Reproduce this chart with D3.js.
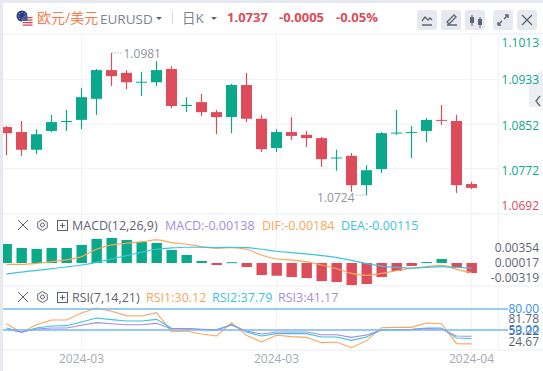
<!DOCTYPE html>
<html>
<head>
<meta charset="utf-8">
<style>
  html, body { margin: 0; padding: 0; background: #fff; overflow: hidden; }
  text { font-family: "Open Sans", "Noto Sans CJK SC", sans-serif; }
</style>
<script src="https://cdn.jsdelivr.net/npm/d3@7"></script>
</head>
<body>
<svg id="chart" width="543" height="371"></svg>
<script>
// candles, red = close below open
const opens = [1.0847,1.0838,1.0806,1.0840,1.0856,1.0860,1.0898,1.0950,1.0945,1.0928,1.0928,1.0952,1.0885,1.0892,1.0874,1.0865,1.0923,1.0862,1.0809,1.0838,1.0833,1.0827,1.0791,1.0795,1.0742,1.0771,1.0836,1.0837,1.0840,1.0860,1.0858,1.0744];
const closes = [1.0836,1.0806,1.0834,1.0856,1.0858,1.0901,1.0950,1.0939,1.0928,1.0929,1.0950,1.0885,1.0887,1.0874,1.0865,1.0923,1.0862,1.0807,1.0838,1.0831,1.0827,1.0789,1.0792,1.0742,1.0769,1.0836,1.0837,1.0838,1.0860,1.0859,1.0742,1.0737];
const highs = [1.0849,1.0858,1.0843,1.0869,1.0878,1.0918,1.0952,1.0981,1.0950,1.0947,1.0966,1.0957,1.0901,1.0907,1.0878,1.0925,1.0945,1.0869,1.0843,1.0865,1.0840,1.0829,1.0806,1.0800,1.0778,1.0838,1.0878,1.0849,1.0863,1.0887,1.0869,1.0748];
const lows = [1.0796,1.0795,1.0798,1.0838,1.0840,1.0843,1.0869,1.0921,1.0916,1.0903,1.0921,1.0881,1.0874,1.0867,1.0834,1.0836,1.0856,1.0802,1.0802,1.0824,1.0811,1.0775,1.0768,1.0730,1.0724,1.0764,1.0833,1.0791,1.0820,1.0851,1.0728,1.0735];

const macdBars = [.00427,.00337,.00315,.00337,.00337,.00405,.00540,.00562,.00517,.00472,.00450,.00292,.00180,.00045,-.00045,.00018,-.00090,-.00270,-.00285,-.00315,-.00337,-.00405,-.00427,-.00495,-.00472,-.00315,-.00180,-.00067,.00022,.00090,-.00090,-.00225];
const difLine = [-.00030,-.00030,-.00008,.00030,.00068,.00143,.00308,.00405,.00443,.00473,.00518,.00458,.00420,.00368,.00330,.00345,.00308,.00180,.00090,.00068,.00030,-.00045,-.00128,-.00233,-.00278,-.00233,-.00173,-.00120,-.00083,-.00053,-.00143,-.00215];
const deaLine = [-.00248,-.00203,-.00165,-.00128,-.00090,-.00045,.00015,.00090,.00165,.00240,.00308,.00338,.00353,.00353,.00345,.00353,.00345,.00308,.00263,.00233,.00203,.00165,.00120,.00060,-.00015,-.00068,-.00098,-.00113,-.00098,-.00083,-.00098,-.00115];

const rsi1 = [59.0,46.2,57.6,64.3,64.3,74.3,81.4,76.7,70.5,70.0,74.8,47.6,48.6,44.3,41.4,60.5,42.4,32.9,42.4,40.5,39.5,31.9,32.9,24.7,34.8,53.3,53.8,53.8,60.0,59.0,30.5,30.12];
const rsi2 = [52.9,47.1,52.9,55.7,56.2,61.4,67.1,64.8,62.9,62.9,65.2,52.4,51.9,50.5,49.5,58.1,47.1,41.4,44.8,45.2,44.8,40.0,40.0,35.2,40.0,50.5,50.5,51.0,52.9,52.9,38.6,37.79];
const rsi3 = [51.0,46.7,51.4,52.9,52.9,56.7,60.5,59.0,57.6,57.6,59.5,51.9,51.9,51.0,50.5,56.7,48.6,44.3,47.1,47.1,47.1,43.3,43.3,39.5,42.9,50.0,50.0,50.5,51.9,51.4,41.4,41.17];

const priceTicks = [1.1013, 1.0933, 1.0852, 1.0772, 1.0692];
const macdTicks = [0.00354, 0.00017, -0.00319];
const rsiTicks = [81.78, 53.22, 24.67];
const rsiLevels = [80, 50];
const dateLabels = [[5, "2024-03"], [18, "2024-03"], [31, "2024-04"]];

const green = "#0aa98b", red = "#dc4c5a", gray = "#8f94a1", dark = "#5f6472";
const orange = "#f9a65a", cyan = "#3cc4de", purple = "#a78be0", gridC = "#f2f3f7";

const svg = d3.select("#chart");
const x = d3.scaleBand().domain(d3.range(opens.length)).range([-1, 479]);
const xc = i => x(i) + x.bandwidth() / 2;
const y = d3.scaleLinear().domain([1.0933, 1.0692]).range([79.5, 212.8]);
const yM = d3.scaleLinear().domain([0, 0.00354]).range([263, 247.2]);
const yR = d3.scaleLinear().domain([50, 80]).range([330, 309]);
const yRLabel = d3.scaleLinear().domain([24.67, 81.78]).range([341.5, 319]);

// 外框和分隔线
svg.append("rect").attr("width", 543).attr("height", 3).attr("fill", "#e6e9f0");
svg.append("rect").attr("width", 3).attr("height", 371).attr("fill", "#e6e9f0");
const hLines = [34, 214, 286, 350];
svg.selectAll(".sep").data(hLines).enter().append("line")
    .attr("x1", 3).attr("x2", 543).attr("y1", d => d).attr("y2", d => d)
    .attr("stroke", gridC).attr("stroke-width", 1.5);
svg.selectAll(".gridy").data(priceTicks.slice(1, 4)).enter().append("line")
    .attr("x1", 3).attr("x2", 498).attr("y1", d => y(d)).attr("y2", d => y(d))
    .attr("stroke", gridC).attr("stroke-width", 1.2);
svg.selectAll(".gridx").data(dateLabels).enter().append("line")
    .attr("x1", d => xc(d[0])).attr("x2", d => xc(d[0])).attr("y1", 35).attr("y2", 350)
    .attr("stroke", gridC).attr("stroke-width", 1.2);
svg.append("line").attr("x1", 498.5).attr("x2", 498.5).attr("y1", 34).attr("y2", 350)
    .attr("stroke", gridC);

// 折叠按钮，放在坐标轴文字下面
svg.append("path").attr("d", "M529,80L543,70V107H529z").attr("fill", "#eeeff3");
svg.append("path").attr("d", "M540,96l-4,5 4,5").attr("fill", "none").attr("stroke", dark).attr("stroke-width", 1.3);

svg.append("defs").append("clipPath").attr("id", "plot")
    .append("rect").attr("x", 3).attr("y", 34).attr("width", 495).attr("height", 316);
const plot = svg.append("g").attr("clip-path", "url(#plot)");

// K线
const idx = d3.range(opens.length);
const colorOf = i => closes[i] < opens[i] ? red : green;
plot.selectAll(".wick").data(idx).enter().append("line")
    .attr("x1", xc).attr("x2", xc)
    .attr("y1", i => y(highs[i])).attr("y2", i => y(lows[i]))
    .attr("stroke", colorOf).attr("stroke-width", 1.2);
plot.selectAll(".body").data(idx).enter().append("rect")
    .attr("x", i => xc(i) - 5.5).attr("width", 11)
    .attr("y", i => y(Math.max(opens[i], closes[i])))
    .attr("height", i => Math.max(1, Math.abs(y(opens[i]) - y(closes[i]))))
    .attr("fill", colorOf);

// 最高最低标注
const hiIdx = highs.indexOf(d3.max(highs)), loIdx = lows.indexOf(d3.min(lows));
svg.append("path")
    .attr("d", `M${xc(hiIdx)},${y(highs[hiIdx])}h11`)
    .attr("stroke", gray).attr("stroke-dasharray", "1 2").attr("fill", "none");
svg.append("text").attr("x", xc(hiIdx) + 12).attr("y", y(highs[hiIdx]) + 5)
    .attr("font-size", 12).attr("fill", gray).text(highs[hiIdx].toFixed(4));
svg.append("path")
    .attr("d", `M${xc(loIdx)},${y(lows[loIdx])}h-11`)
    .attr("stroke", gray).attr("stroke-dasharray", "1 2").attr("fill", "none");
svg.append("text").attr("x", xc(loIdx) - 12).attr("y", y(lows[loIdx]) + 7)
    .attr("text-anchor", "end")
    .attr("font-size", 12).attr("fill", gray).text(lows[loIdx].toFixed(4));

// MACD
plot.selectAll(".mbar").data(macdBars).enter().append("rect")
    .attr("x", (d, i) => xc(i) - 5).attr("width", 10.4)
    .attr("y", d => d > 0 ? yM(d) : yM(0))
    .attr("height", d => Math.max(1, Math.abs(yM(d) - yM(0))))
    .attr("fill", d => d > 0 ? green : red);
const lineM = d3.line().x((d, i) => xc(i)).y(d => yM(d)).curve(d3.curveMonotoneX);
plot.append("path").datum(difLine).attr("d", lineM).attr("fill", "none").attr("stroke", orange).attr("stroke-width", 1.2);
plot.append("path").datum(deaLine).attr("d", lineM).attr("fill", "none").attr("stroke", cyan).attr("stroke-width", 1.2);

// RSI
const lineR = d3.line().x((d, i) => xc(i)).y(d => yR(d));
[[rsi1, orange], [rsi2, cyan], [rsi3, purple]].forEach(s => {
    plot.append("path").datum(s[0]).attr("d", lineR).attr("fill", "none").attr("stroke", s[1]).attr("stroke-width", 1.1);
});
svg.selectAll(".lvl").data(rsiLevels).enter().append("line")
    .attr("x1", 3).attr("x2", 508).attr("y1", d => yR(d)).attr("y2", d => yR(d))
    .attr("stroke", "#74b8f2").attr("stroke-width", 1.6);

// 右侧坐标轴
function rightAxis(scale, ticks, fmt, fill, size) {
    const g = svg.append("g").attr("transform", "translate(539,0)")
        .call(d3.axisLeft(scale).tickValues(ticks).tickSize(0).tickPadding(0).tickFormat(fmt));
    g.select(".domain").remove();
    g.selectAll("text").attr("fill", fill).attr("font-size", size)
        .style("font-family", '"Open Sans", sans-serif');
    return g;
}
const priceAxis = rightAxis(y, priceTicks, d => d.toFixed(4), d => d < 1.07 ? red : green, 12);
priceAxis.selectAll("text").attr("dy", (d, i) => i === 0 ? "0.9em" : i === 4 ? "-0.3em" : i === 1 ? "0.35em" : i === 2 ? "0.45em" : "0.52em");
rightAxis(yM, macdTicks, d => d.toFixed(5), dark, 12);
rightAxis(yRLabel, rsiTicks, d => d.toFixed(2), dark, 12);
rightAxis(yR, rsiLevels, d => d.toFixed(2), "#2f93f0", 12);

// 日期
svg.selectAll(".dt").data(dateLabels).enter().append("text")
    .attr("x", d => xc(d[0])).attr("y", 363).attr("text-anchor", "middle")
    .attr("font-size", 12).attr("fill", "#a5a9b5").text(d => d[1]);

// 标题栏
function label(px, py, str, fill, size, weight) {
    return svg.append("text").attr("x", px).attr("y", py).attr("fill", fill)
        .attr("font-size", size).attr("font-weight", weight || 400).text(str);
}
// flags
svg.append("circle").attr("cx", 22).attr("cy", 16).attr("r", 5.5).attr("fill", "#2a3f8f");
svg.selectAll(".star").data(d3.range(8)).enter().append("circle")
    .attr("cx", d => 22 + 3.4 * Math.cos(d * Math.PI / 4))
    .attr("cy", d => 16 + 3.4 * Math.sin(d * Math.PI / 4))
    .attr("r", 0.5).attr("fill", "#f2c230");
svg.append("circle").attr("cx", 27.5).attr("cy", 21).attr("r", 5.5).attr("fill", "#f4f4f6");
svg.selectAll(".stripe").data([17, 19.5, 22, 24.5]).enter().append("rect")
    .attr("x", 22.5).attr("width", 10).attr("y", d => d).attr("height", 1.2).attr("fill", "#d8434f");
svg.append("path").attr("d", "M22,21a5.5,5.5 0 0 1 5.5,-5.5v5.5z").attr("fill", "#4a5a96");

label(37, 23, "欧元/美元", "#f47e4f", 14);
label(100, 24, "EURUSD", "#7d8290", 13.5);
svg.append("path").attr("d", "M156,17h6l-3,3z").attr("fill", dark);
svg.append("line").attr("x1", 172.5).attr("x2", 172.5).attr("y1", 11).attr("y2", 24).attr("stroke", "#d9dbe2");
label(182, 23, "日K", "#7d8290", 13.5);
svg.append("path").attr("d", "M211,17h6l-3,3z").attr("fill", dark);
label(227, 22, "1.0737", red, 13, 700);
label(279, 22, "-0.0005", red, 13, 700);
label(336, 22, "-0.05%", red, 13, 700);

// buttons
const btnX = [417, 441, 465, 493, 517];
svg.selectAll(".btn").data(btnX).enter().append("rect")
    .attr("x", d => d).attr("y", 10).attr("width", 20).attr("height", 20).attr("rx", 3)
    .attr("fill", "#e6e9f0");
const icons = [
    "M422,25h10M422,21l3,-4 3,3 2,-2 2,2",
    "M447,25h10M447,22l7,-7 2,2 -7,7z",
    "",
    "M498,25l4,-4M504,19l4,-4M505,15h3v3M498,22v3h3",
    "M522,15l10,10M532,15l-10,10"
];
svg.selectAll(".ic").data(icons).enter().append("path")
    .attr("d", d => d).attr("fill", "none").attr("stroke", "#5f6472").attr("stroke-width", 1.3);
svg.append("path").attr("d", "M472,15v11M480,17v11").attr("stroke", dark);
svg.append("rect").attr("x", 470).attr("y", 17).attr("width", 4).attr("height", 6).attr("fill", dark);
svg.append("rect").attr("x", 478).attr("y", 19).attr("width", 4).attr("height", 6).attr("fill", dark);

// 副图标题
function paneTools(cy) {
    svg.append("path").attr("d", `M18,${cy - 5}l10,10M28,${cy - 5}l-10,10`).attr("stroke", dark).attr("stroke-width", 1);
    const r = 5.5, pts = d3.range(6).map(k => [42.5 + r * Math.sin(k * Math.PI / 3), cy + r * Math.cos(k * Math.PI / 3)]);
    svg.append("polygon").attr("points", pts.join(" ")).attr("fill", "none").attr("stroke", dark);
    svg.append("circle").attr("cx", 42.5).attr("cy", cy).attr("r", 2).attr("fill", "none").attr("stroke", dark);
    svg.append("rect").attr("x", 57.5).attr("y", cy - 4.5).attr("width", 10).attr("height", 10).attr("fill", "none").attr("stroke", dark);
    svg.append("path").attr("d", `M60,${cy + 0.5}h5M62.5,${cy - 2}v5`).attr("stroke", dark);
}
paneTools(225);
paneTools(297);
label(72, 230, "MACD(12,26,9)", dark, 12.5);
label(165, 230, "MACD:-0.00138", purple, 12.5);
label(262, 230, "DIF:-0.00184", orange, 12.5);
label(341, 230, "DEA:-0.00115", cyan, 12.5);
label(72, 302, "RSI(7,14,21)", dark, 12.5);
label(146, 302, "RSI1:30.12", orange, 12.5);
label(212, 302, "RSI2:37.79", cyan, 12.5);
label(278, 302, "RSI3:41.17", purple, 12.5);
</script>
</body>
</html>
